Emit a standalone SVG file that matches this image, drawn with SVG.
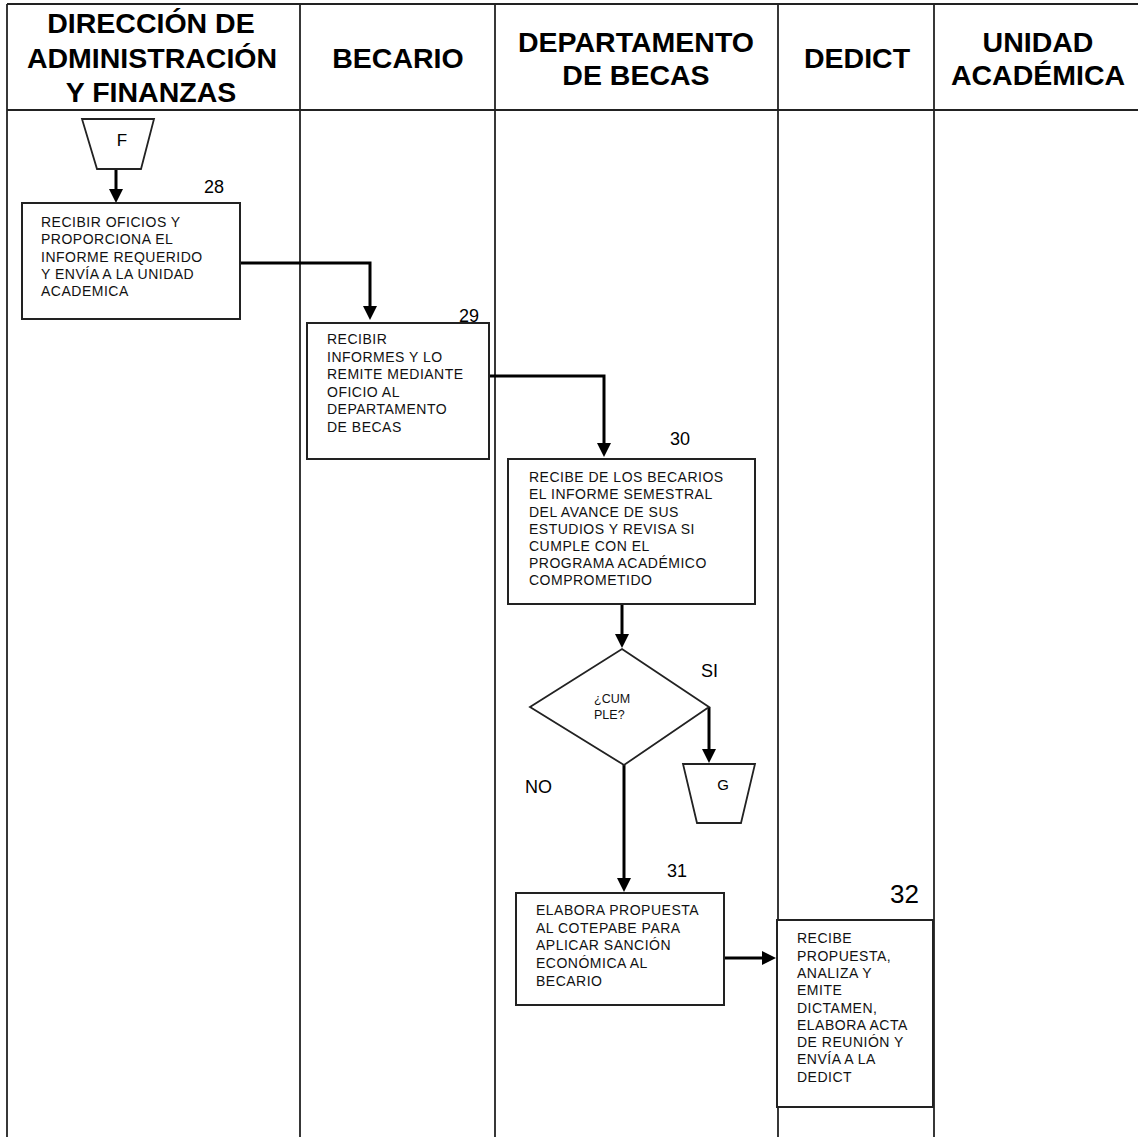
<svg xmlns="http://www.w3.org/2000/svg" width="1138" height="1137" viewBox="0 0 1138 1137">
<style>
.lane{stroke:#222;stroke-width:1.8;fill:none}
.hd{font-family:"Liberation Sans",Arial,sans-serif;font-weight:bold;font-size:28.5px;fill:#000;text-anchor:middle}
.box{fill:#fff;stroke:#222;stroke-width:2}
.tx{font-family:"Liberation Sans",Arial,sans-serif;font-size:14px;letter-spacing:0.5px;fill:#111}
.num{font-family:"Liberation Sans",Arial,sans-serif;font-size:18px;fill:#000}
.lbl{font-family:"Liberation Sans",Arial,sans-serif;font-size:18px;fill:#000}
.con{stroke:#000;stroke-width:3;fill:none;marker-end:url(#ah)}
</style>
<defs>
<marker id="ah" markerUnits="userSpaceOnUse" markerWidth="14" markerHeight="14" viewBox="0 0 14 14" refX="8" refY="7" orient="auto">
<path d="M0,0 L14,7 L0,14 z" fill="#000"/>
</marker>
</defs>
<rect width="1138" height="1137" fill="#fff"/>
<g id="lanes">
<line class="lane" x1="7" y1="4" x2="1138" y2="4"/>
<line class="lane" x1="7" y1="110" x2="1138" y2="110"/>
<line class="lane" x1="7" y1="4" x2="7" y2="1137"/>
<line class="lane" x1="300" y1="4" x2="300" y2="1137"/>
<line class="lane" x1="495" y1="4" x2="495" y2="1137"/>
<line class="lane" x1="778" y1="4" x2="778" y2="1137"/>
<line class="lane" x1="934" y1="4" x2="934" y2="1137"/>
<text class="hd" x="151" y="33">DIRECCIÓN DE</text>
<text class="hd" x="152" y="68">ADMINISTRACIÓN</text>
<text class="hd" x="151" y="102">Y FINANZAS</text>
<text class="hd" x="398" y="68">BECARIO</text>
<text class="hd" x="636" y="52">DEPARTAMENTO</text>
<text class="hd" x="636" y="85">DE BECAS</text>
<text class="hd" x="857" y="68">DEDICT</text>
<text class="hd" x="1038" y="52">UNIDAD</text>
<text class="hd" x="1038" y="85">ACADÉMICA</text>
</g>
<g id="connectors">
<path class="con" d="M116,169 V197"/>
<path class="con" d="M240,263 H370 V314"/>
<path class="con" d="M489,376 H604 V451"/>
<path class="con" d="M622,604 V642"/>
<path class="con" d="M709,707 V757"/>
<path class="con" d="M624,765 V886"/>
<path class="con" d="M724,958 H770"/>
</g>
<g id="connector-F">
<path d="M82,119 H154 L141,169 H97 Z" fill="#fff" stroke="#222" stroke-width="1.8"/>
<text x="122" y="146" font-family="Liberation Sans, Arial, sans-serif" font-size="17" text-anchor="middle">F</text>
</g>
<g id="node-28">
<rect class="box" x="22" y="203" width="218" height="116"/>
<text class="num" x="204" y="193">28</text>
<text class="tx"><tspan x="41" y="227">RECIBIR OFICIOS Y</tspan><tspan x="41" y="244">PROPORCIONA EL</tspan><tspan x="41" y="262">INFORME REQUERIDO</tspan><tspan x="41" y="279">Y ENVÍA A LA UNIDAD</tspan><tspan x="41" y="296">ACADEMICA</tspan></text>
</g>
<g id="node-29">
<rect class="box" x="307" y="323" width="182" height="136"/>
<text class="num" x="459" y="322">29</text>
<text class="tx"><tspan x="327" y="344">RECIBIR</tspan><tspan x="327" y="362">INFORMES Y LO</tspan><tspan x="327" y="379">REMITE MEDIANTE</tspan><tspan x="327" y="397">OFICIO AL</tspan><tspan x="327" y="414">DEPARTAMENTO</tspan><tspan x="327" y="432">DE BECAS</tspan></text>
</g>
<g id="node-30">
<rect class="box" x="508" y="459" width="247" height="145"/>
<text class="num" x="670" y="445">30</text>
<text class="tx"><tspan x="529" y="482">RECIBE DE LOS BECARIOS</tspan><tspan x="529" y="499">EL INFORME SEMESTRAL</tspan><tspan x="529" y="517">DEL AVANCE DE SUS</tspan><tspan x="529" y="534">ESTUDIOS Y REVISA SI</tspan><tspan x="529" y="551">CUMPLE CON EL</tspan><tspan x="529" y="568">PROGRAMA ACADÉMICO</tspan><tspan x="529" y="585">COMPROMETIDO</tspan></text>
</g>
<g id="decision">
<path d="M622,649 L709,707 L624,765 L530,707 Z" fill="#fff" stroke="#222" stroke-width="1.8"/>
<text font-family="Liberation Sans, Arial, sans-serif" font-size="12.5" fill="#111"><tspan x="594" y="703">¿CUM</tspan><tspan x="594" y="719">PLE?</tspan></text>
<text class="lbl" x="701" y="677">SI</text>
<text class="lbl" x="525" y="793">NO</text>
</g>
<g id="connector-G">
<path d="M683,764 H755 L741,823 H697 Z" fill="#fff" stroke="#222" stroke-width="1.8"/>
<text x="723" y="790" font-family="Liberation Sans, Arial, sans-serif" font-size="15" text-anchor="middle">G</text>
</g>
<g id="node-31">
<rect class="box" x="516" y="893" width="208" height="112"/>
<text class="num" x="667" y="877">31</text>
<text class="tx"><tspan x="536" y="915">ELABORA PROPUESTA</tspan><tspan x="536" y="933">AL COTEPABE PARA</tspan><tspan x="536" y="950">APLICAR SANCIÓN</tspan><tspan x="536" y="968">ECONÓMICA AL</tspan><tspan x="536" y="986">BECARIO</tspan></text>
</g>
<g id="node-32">
<rect class="box" x="777" y="920" width="156" height="187"/>
<text x="890" y="903" font-family="Liberation Sans, Arial, sans-serif" font-size="26" fill="#000">32</text>
<text class="tx"><tspan x="797" y="943">RECIBE</tspan><tspan x="797" y="961">PROPUESTA,</tspan><tspan x="797" y="978">ANALIZA Y</tspan><tspan x="797" y="995">EMITE</tspan><tspan x="797" y="1013">DICTAMEN,</tspan><tspan x="797" y="1030">ELABORA ACTA</tspan><tspan x="797" y="1047">DE REUNIÓN Y</tspan><tspan x="797" y="1064">ENVÍA A LA</tspan><tspan x="797" y="1082">DEDICT</tspan></text>
</g>
</svg>
